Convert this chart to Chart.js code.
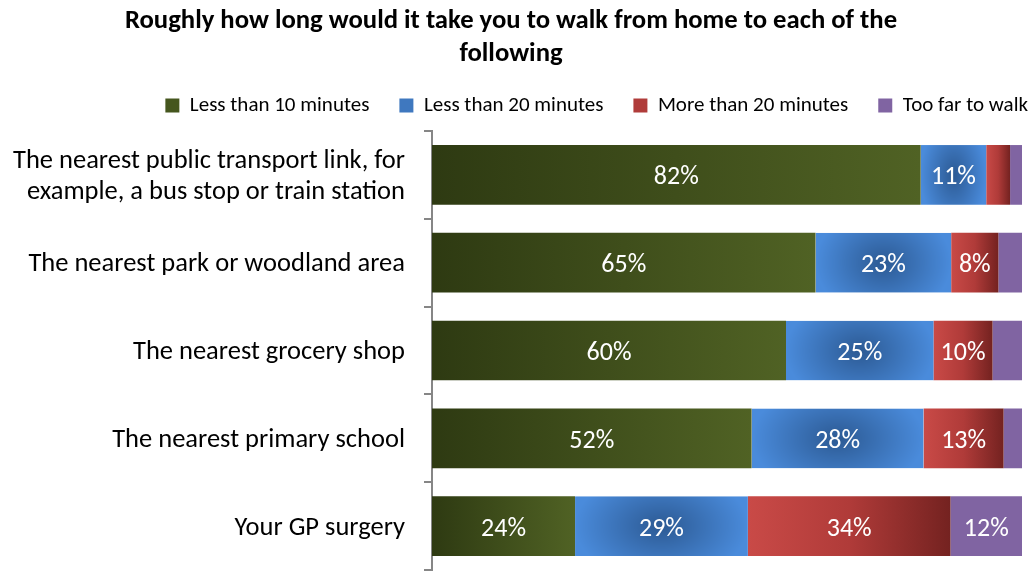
<!DOCTYPE html>
<html>
<head>
<meta charset="utf-8">
<script src="https://cdn.jsdelivr.net/npm/chart.js@4.4.1/dist/chart.umd.min.js"></script>
<style>
	body { margin: 0; background: #fff; }
	#wrap { width: 1031px; height: 572px; }
</style>
</head>
<body>
<div id="wrap"><canvas id="walk"></canvas></div>
<script>
		const categories = [
			["The nearest public transport link, for", "example, a bus stop or train station"],
			"The nearest park or woodland area",
			"The nearest grocery shop",
			"The nearest primary school",
			"Your GP surgery",
		];
		const seriesNames = ["Less than 10 minutes", "Less than 20 minutes", "More than 20 minutes", "Too far to walk"];
		const lessThan10 = [82, 65, 60, 52, 24];
		const lessThan20 = [11, 23, 25, 28, 29];
		const moreThan20 = [4, 8, 10, 13, 34];
		const tooFar = [2, 4, 5, 3, 12];

		const series = [lessThan10, lessThan20, moreThan20, tooFar];
		// each row is drawn as a 100% stack, like the survey report
		const rowTotals = categories.map((c, i) => series.reduce((s, arr) => s + arr[i], 0));
		const shares = series.map(arr => arr.map((v, i) => v / rowTotals[i] * 100));

		const flatColors = ["#45561e", "#3f78bf", "#b03c3a", "#8064a2"];
		const BAR_PCT = 0.68;
		const FONT = "Carlito, Lato, sans-serif";

		function segmentBox(chart, d, i) {
			const x = chart.scales.x, y = chart.scales.y;
			let start = 0;
			for (let k = 0; k < d; k++) start += shares[k][i];
			const x0 = x.getPixelForValue(start);
			const x1 = x.getPixelForValue(start + shares[d][i]);
			const step = (y.bottom - y.top) / categories.length;
			const h = step * BAR_PCT;
			const yc = y.getPixelForValue(i);
			return { x0, x1, top: yc - h / 2, h };
		}

		// blue segments: dark in the middle, light towards the edges
		function centreGradient(ctx, box) {
			const w = Math.max(1, Math.round(box.x1 - box.x0));
			const h = Math.max(1, Math.round(box.h));
			const off = document.createElement("canvas");
			off.width = w;
			off.height = h;
			const octx = off.getContext("2d");
			const img = octx.createImageData(w, h);
			const inner = [44, 90, 148], outer = [74, 139, 219];
			for (let py = 0; py < h; py++) {
				for (let px = 0; px < w; px++) {
					const dx = (px + 0.5 - w / 2) / (w / 2);
					const dy = (py + 0.5 - h / 2) / (h / 2) * 0.55;
					const t = Math.min(1, Math.sqrt(dx * dx + dy * dy));
					const o = (py * w + px) * 4;
					for (let c = 0; c < 3; c++) img.data[o + c] = inner[c] + (outer[c] - inner[c]) * t;
					img.data[o + 3] = 255;
				}
			}
			octx.putImageData(img, 0, 0);
			const pat = ctx.createPattern(off, "no-repeat");
			pat.setTransform(new DOMMatrix().translate(box.x0, box.top));
			return pat;
		}

		function fillFor(context, d) {
			const chart = context.chart;
			if (context.type !== "data" || !chart.chartArea) return flatColors[d];
			const box = segmentBox(chart, d, context.dataIndex);
			const ctx = chart.ctx;
			if (d === 0) {
				const g = ctx.createLinearGradient(box.x0, 0, box.x1, 0);
				g.addColorStop(0, "#2e3a12");
				g.addColorStop(1, "#506224");
				return g;
			}
			if (d === 1) return centreGradient(ctx, box);
			if (d === 2) {
				const g = ctx.createLinearGradient(box.x0, 0, box.x1, 0);
				g.addColorStop(0, "#c94a47");
				g.addColorStop(0.5, "#b03b39");
				g.addColorStop(1, "#742220");
				return g;
			}
			return "#8064a2";
		}

		const valueLabels = {
			id: "valueLabels",
			afterDatasetsDraw(chart) {
				const ctx = chart.ctx;
				ctx.save();
				ctx.font = "26px " + FONT;
				ctx.fillStyle = "#fff";
				ctx.textAlign = "center";
				ctx.textBaseline = "middle";
				series.forEach((arr, d) => {
					chart.getDatasetMeta(d).data.forEach((bar, i) => {
						if (arr[i] < 6) return;
						const p = bar.getCenterPoint();
						ctx.fillText(arr[i] + "%", p.x, p.y + 3);
					});
				});
				ctx.restore();
			},
		};

		// legend row runs a little past the plot's right edge and sits a bit higher
		const legendShift = {
			id: "legendShift",
			afterLayout(chart) {
				const lg = chart.legend;
				lg.left += 36;
				lg.right += 36;
				lg.top -= 5;
				lg.bottom -= 5;
			},
		};

		Chart.defaults.color = "#000";
		Chart.defaults.font.family = FONT;

		new Chart(document.getElementById("walk"), {
			type: "bar",
			data: {
				labels: categories,
				datasets: seriesNames.map((name, d) => ({
					label: name,
					data: shares[d],
					backgroundColor: (c) => fillFor(c, d),
					borderWidth: 0,
					barPercentage: BAR_PCT,
					categoryPercentage: 1,
				})),
			},
			plugins: [valueLabels, legendShift],
			options: {
				indexAxis: "y",
				responsive: true,
				maintainAspectRatio: false,
				animation: false,
				layout: {
					padding: { left: 0, right: 9, bottom: 2, top: 0 },
				},
				plugins: {
					title: {
						display: true,
						text: ["Roughly how long would it take you to walk from home to each of the", "following"],
						font: { size: 26.7, weight: "bold", lineHeight: 1.236 },
						padding: { top: 5, bottom: -1 },
					},
					legend: {
						position: "top",
						align: "end",
						labels: {
							boxWidth: 14,
							boxHeight: 14,
							padding: 30,
							font: { size: 21 },
							generateLabels(chart) {
								const items = Chart.defaults.plugins.legend.labels.generateLabels(chart);
								items.forEach((it, d) => {
									it.fillStyle = flatColors[d];
									it.strokeStyle = flatColors[d];
									it.lineWidth = 0;
								});
								return items;
							},
						},
					},
					tooltip: { enabled: false },
				},
				scales: {
					x: {
						stacked: true,
						min: 0,
						max: 100,
						display: false,
					},
					y: {
						stacked: true,
						afterFit(scale) {
							scale.width = 432;
							scale.paddingTop = 0;
							scale.paddingBottom = 0;
						},
						border: { color: "#868686", width: 2 },
						grid: {
							offset: true,
							drawOnChartArea: false,
							color: "#868686",
							lineWidth: 2,
							tickLength: 8,
						},
						ticks: {
							padding: 19,
							labelOffset: 2,
							font: { size: 26.5, lineHeight: 1.15 },
						},
					},
				},
			},
		});
</script>
</body>
</html>
